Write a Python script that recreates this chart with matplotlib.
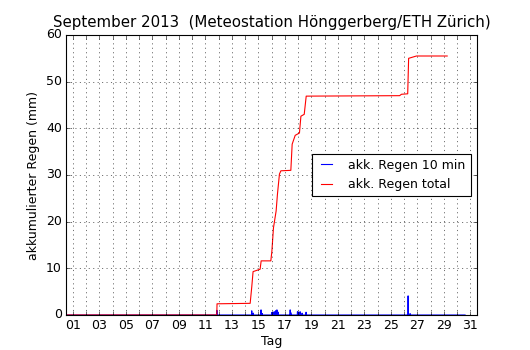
import matplotlib
matplotlib.use("Agg")
import matplotlib.pyplot as plt
from matplotlib.ticker import MultipleLocator

plt.style.use("classic")

# accumulated total rain (day of month, mm)
total_days = [0.5, 11.86, 11.88, 14.38, 14.50, 14.60, 15.13, 15.21, 15.94,
              16.02, 16.14, 16.34, 16.44, 16.59, 16.70, 17.45, 17.55, 17.78,
              18.10, 18.21, 18.46, 18.61, 25.66, 25.80, 26.27, 26.34, 26.93,
              29.25]
total_mm = [0.0, 0.0, 2.4, 2.5, 6.0, 9.3, 9.8, 11.6, 11.6,
            13.7, 18.7, 22.3, 25.9, 30.2, 30.9, 31.0, 36.6, 38.5,
            39.0, 42.6, 43.0, 46.9, 47.0, 47.3, 47.4, 55.0, 55.5,
            55.5]

# 10-minute rain amounts (day of month, mm)
rain10_days = [11.87, 14.50, 14.62, 15.20, 15.30, 16.00, 16.10, 16.20, 16.30,
               16.40, 16.50, 17.40, 17.45, 17.95, 18.05, 18.15, 18.30, 18.60,
               26.30, 26.45]
rain10_mm = [1.0, 0.9, 0.4, 1.1, 0.3, 0.5, 0.6, 0.7, 0.9,
             1.1, 0.6, 1.1, 0.5, 0.7, 0.6, 0.7, 0.4, 0.6,
             4.1, 0.3]
rain10_start, rain10_end = 0.5, 30.6

day_ticks = list(range(1, 32))
day_labels = ["%02d" % d if d % 2 == 1 else "" for d in day_ticks]

# build the 10-minute series as narrow spikes on a zero baseline
bt, bv = [rain10_start], [0.0]
for d, v in zip(rain10_days, rain10_mm):
    bt += [d - 0.015, d, d + 0.015]
    bv += [0.0, v, 0.0]
bt.append(rain10_end)
bv.append(0.0)

fs = 11.3
fig = plt.figure(figsize=(6.625, 4.375), dpi=80)
ax = fig.add_subplot(111)
ax.plot(bt, bv, color="blue", lw=1.0, label="akk. Regen 10 min")
ax.plot(total_days, total_mm, color="red", lw=1.0, label="akk. Regen total")

ax.set_xlim(0.5, 31.5)
ax.set_ylim(0, 60)
ax.set_xticks(day_ticks)
ax.set_xticklabels(day_labels, fontsize=fs)
ax.yaxis.set_major_locator(MultipleLocator(10))
ax.tick_params(axis="y", labelsize=fs)
ax.grid(True, color="black", linestyle=":", linewidth=0.5)

ax.set_xlabel("Tag", fontsize=fs, labelpad=2)
ax.set_ylabel("akkumulierter Regen (mm)", fontsize=fs)
ax.set_title("September 2013  (Meteostation Hönggerberg/ETH Zürich)",
             fontsize=13.5, pad=7)
ax.legend(loc="center right", fontsize=fs, handlelength=1.5, handletextpad=1.0)

fig.savefig("out.png", dpi=80)
